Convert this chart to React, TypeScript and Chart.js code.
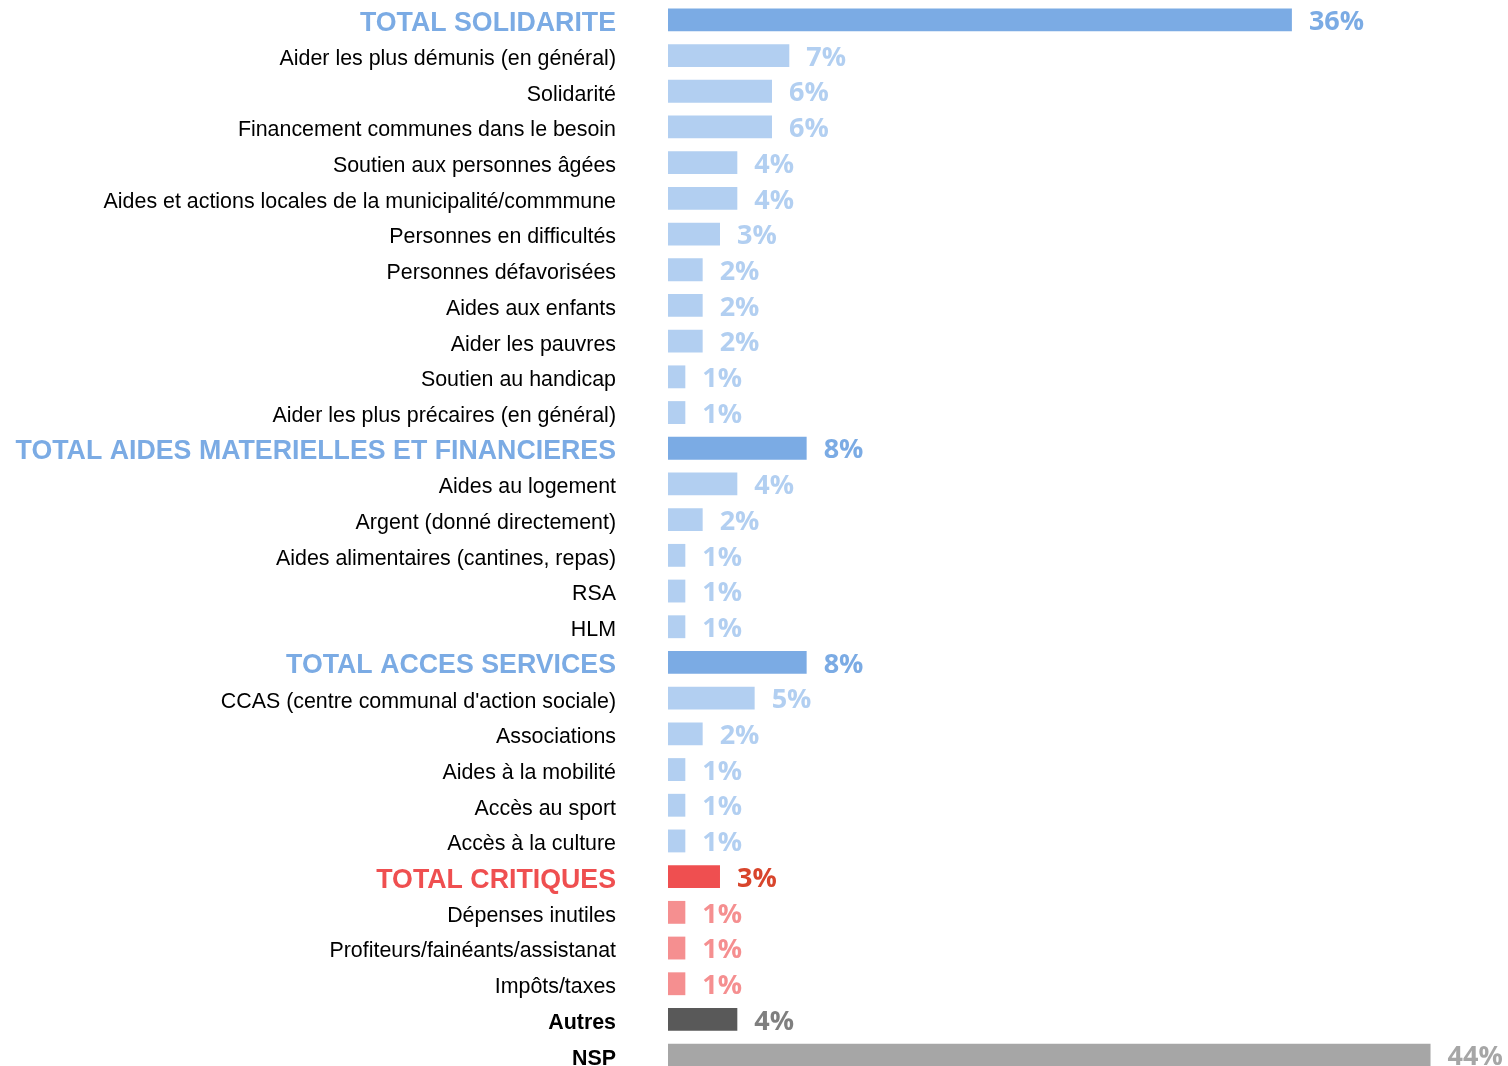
import React, { useEffect, useRef } from "react";
import { Chart, registerables } from "chart.js";

Chart.register(...registerables);

const categories = [
  "TOTAL SOLIDARITE",
  "Aider les plus démunis (en général)",
  "Solidarité",
  "Financement communes dans le besoin",
  "Soutien aux personnes âgées",
  "Aides et actions locales de la municipalité/commmune",
  "Personnes en difficultés",
  "Personnes défavorisées",
  "Aides aux enfants",
  "Aider les pauvres",
  "Soutien au handicap",
  "Aider les plus précaires (en général)",
  "TOTAL AIDES MATERIELLES ET FINANCIERES",
  "Aides au logement",
  "Argent (donné directement)",
  "Aides alimentaires (cantines, repas)",
  "RSA",
  "HLM",
  "TOTAL ACCES SERVICES",
  "CCAS (centre communal d'action sociale)",
  "Associations",
  "Aides à la mobilité",
  "Accès au sport",
  "Accès à la culture",
  "TOTAL CRITIQUES",
  "Dépenses inutiles",
  "Profiteurs/fainéants/assistanat",
  "Impôts/taxes",
  "Autres",
  "NSP",
];

const values = [
  36, 7, 6, 6, 4, 4, 3, 2, 2, 2, 1, 1,
  8, 4, 2, 1, 1, 1,
  8, 5, 2, 1, 1, 1,
  3, 1, 1, 1,
  4,
  44,
];

const rowKinds = [
  "total", "sub", "sub", "sub", "sub", "sub", "sub", "sub", "sub", "sub", "sub", "sub",
  "total", "sub", "sub", "sub", "sub", "sub",
  "total", "sub", "sub", "sub", "sub", "sub",
  "totalRed", "subRed", "subRed", "subRed",
  "autres",
  "nsp",
];

const LABEL_FAMILY = '"Liberation Sans", Arial, sans-serif';
const VALUE_FAMILY = '"Open Sans", sans-serif';

const STYLE: Record<string, { bar: string; value: string; label: string; size: number; weight: string }> = {
  total: { bar: "#7BABE4", value: "#7BABE4", label: "#7BABE4", size: 26.75, weight: "bold" },
  sub: { bar: "#B2CFF1", value: "#B2CFF1", label: "#000000", size: 21.4, weight: "normal" },
  totalRed: { bar: "#EF4F50", value: "#D8452C", label: "#EF4F50", size: 26.75, weight: "bold" },
  subRed: { bar: "#F58F90", value: "#F58F90", label: "#000000", size: 21.4, weight: "normal" },
  autres: { bar: "#595959", value: "#7F7F7F", label: "#000000", size: 21.4, weight: "bold" },
  nsp: { bar: "#A6A6A6", value: "#A6A6A6", label: "#000000", size: 21.4, weight: "bold" },
};

const valueLabels = {
  id: "valueLabels",
  afterDatasetsDraw(chart: any) {
    const meta = chart.getDatasetMeta(0);
    const ctx = chart.ctx;
    ctx.save();
    ctx.textBaseline = "middle";
    ctx.textAlign = "left";
    ctx.font = `bold 27px ${VALUE_FAMILY}`;
    meta.data.forEach((bar: any, i: number) => {
      const s = STYLE[rowKinds[i]];
      ctx.fillStyle = s.value;
      ctx.fillText(values[i] + "%", bar.x + 17, bar.y + 2.5);
    });
    ctx.restore();
  },
};

export default function App() {
  const ref = useRef<HTMLCanvasElement | null>(null);

  useEffect(() => {
    document.body.style.margin = "0";
    document.documentElement.style.overflow = "hidden";
    const canvas = ref.current;
    if (!canvas) return;
    const chart = new Chart(canvas, {
      type: "bar",
      data: {
        labels: categories,
        datasets: [
          {
            data: values,
            backgroundColor: rowKinds.map((k) => STYLE[k].bar),
            borderWidth: 0,
            barPercentage: 0.64,
            categoryPercentage: 1,
          },
        ],
      },
      options: {
        indexAxis: "y",
        responsive: false,
        animation: false,
        devicePixelRatio: 1,
        layout: { padding: { top: 2, bottom: 0, left: 0, right: 0 } },
        plugins: {
          legend: { display: false },
          tooltip: { enabled: false },
          title: { display: false },
        },
        scales: {
          x: {
            display: false,
            min: 0,
            max: 48.47,
          },
          y: {
            display: true,
            grid: { display: false, drawTicks: false },
            border: { display: false },
            afterFit(scale: any) {
              scale.width = 668;
              scale.paddingTop = 0;
              scale.paddingBottom = 0;
            },
            ticks: {
              autoSkip: false,
              padding: 52,
              labelOffset: 3.5,
              color: (c: any) => STYLE[rowKinds[c.index]].label,
              font: (c: any) => {
                const s = STYLE[rowKinds[c.index]];
                return { family: LABEL_FAMILY, size: s.size, weight: s.weight as any };
              },
            },
          },
        },
      },
      plugins: [valueLabels],
    });
    return () => chart.destroy();
  }, []);

  return (
    <div style={{ width: 1508, height: 1066, overflow: "hidden", background: "#fff" }}>
      <canvas ref={ref} width={1508} height={1073} style={{ display: "block" }} />
    </div>
  );
}
